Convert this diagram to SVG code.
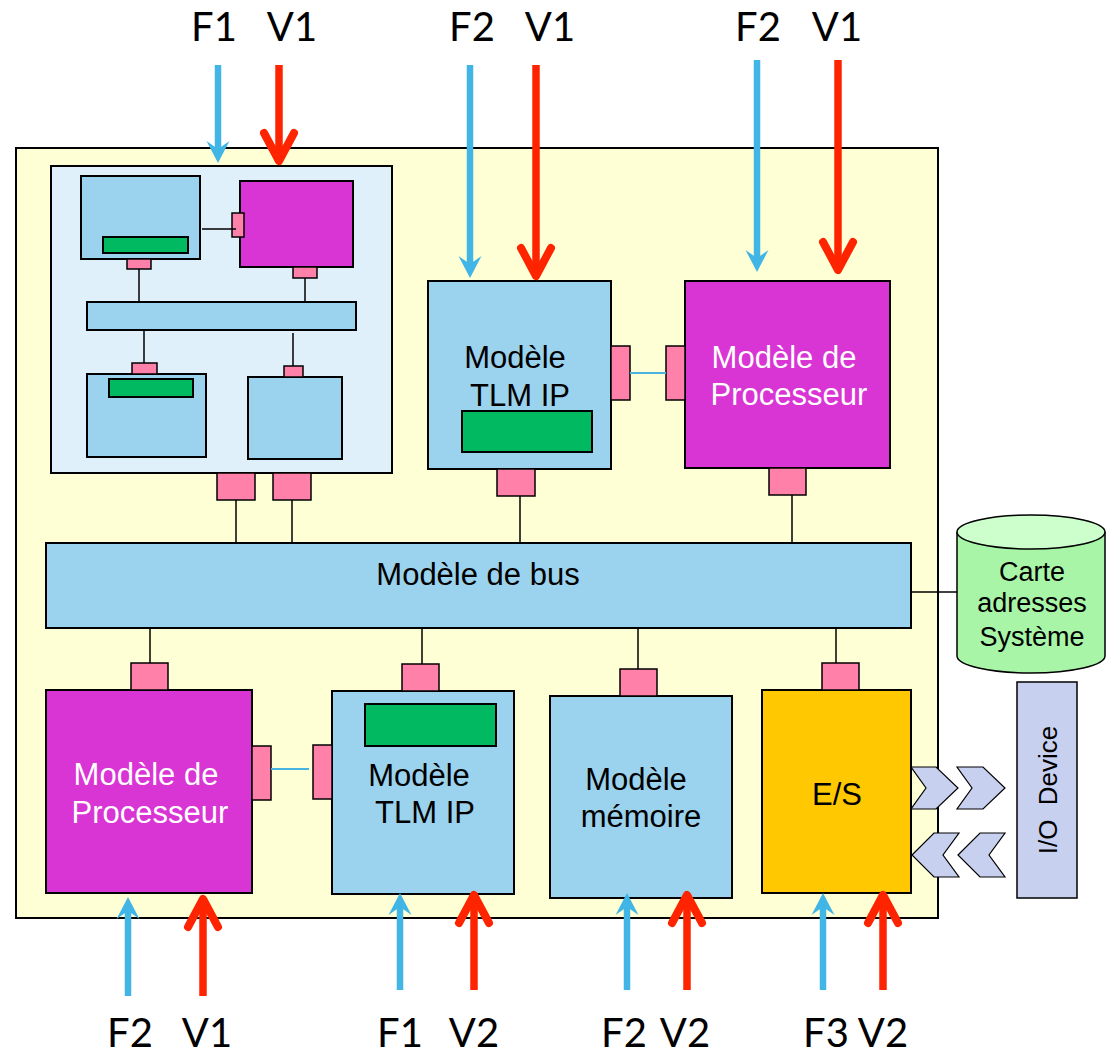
<svg xmlns="http://www.w3.org/2000/svg" width="1106" height="1058" viewBox="0 0 1106 1058">
<defs>
<style>
.bx{stroke:#000;stroke-width:2}
.lb{fill:#9BD3EE}
.mg{fill:#D934D4}
.pk{fill:#FF80A8;stroke:#000;stroke-width:1.5}
.gr{fill:#00B961;stroke:#000;stroke-width:2}
.ln{stroke:#000;stroke-width:1.5;fill:none}
.cy{stroke:#46B4E0;stroke-width:2;fill:none}
.t{font-family:"Liberation Sans",Arial,sans-serif;font-size:31px;text-anchor:middle;fill:#000}
.w{fill:#fff}
.lbl{font-family:Lato,"Liberation Sans",sans-serif;font-size:40px;text-anchor:middle;fill:#000}
.fa{stroke:#41B6E6;stroke-width:6.5;fill:none;marker-end:url(#hb)}
.va{stroke:#FF2400;stroke-width:7.5;fill:none;marker-end:url(#hr)}
.chev{fill:#C8D0F0;stroke:#000;stroke-width:1.2}
</style>
<marker id="hb" markerUnits="userSpaceOnUse" markerWidth="24" markerHeight="24" refX="8" refY="11.5" orient="auto" overflow="visible">
<path d="M0,0 L22,11.5 L0,23 L8,11.5 Z" fill="#41B6E6"/>
</marker>
<marker id="hr" markerUnits="userSpaceOnUse" markerWidth="34" markerHeight="36" refX="28" refY="17" orient="auto" overflow="visible">
<path d="M2,2 L30,17 L2,32" fill="none" stroke="#FF2400" stroke-width="8" stroke-linecap="round" stroke-linejoin="round"/>
</marker>
</defs>
<rect x="0" y="0" width="1106" height="1058" fill="#fff"/>

<g id="system">
<rect x="16" y="148" width="922" height="770" fill="#FFFFD5" class="bx"/>
</g>

<g id="subsystem">
<rect x="51" y="166" width="341" height="307" fill="#DFF0FA" class="bx"/>
<rect x="81" y="176" width="119" height="83" class="bx lb"/>
<rect x="103" y="237" width="85" height="16" class="gr"/>
<rect x="127" y="259" width="24" height="10" class="pk"/>
<rect x="240" y="181" width="113" height="86" class="bx mg"/>
<rect x="232" y="213" width="12" height="24" class="pk"/>
<rect x="293" y="267" width="24" height="11" class="pk"/>
<rect x="87" y="302" width="269" height="28" class="bx lb"/>
<rect x="87" y="374" width="119" height="83" class="bx lb"/>
<rect x="109" y="379" width="84" height="18" class="gr"/>
<rect x="132" y="363" width="25" height="11" class="pk"/>
<rect x="248" y="377" width="94" height="82" class="bx lb"/>
<rect x="284" y="366" width="19" height="11" class="pk"/>
<line x1="202" y1="229" x2="236" y2="229" class="ln"/>
<line x1="139" y1="269" x2="139" y2="302" class="ln"/>
<line x1="305" y1="278" x2="305" y2="302" class="ln"/>
<line x1="144" y1="330" x2="144" y2="363" class="ln"/>
<line x1="293" y1="333" x2="293" y2="366" class="ln"/>
<rect x="217" y="473" width="38" height="27" class="pk"/>
<rect x="273" y="473" width="38" height="27" class="pk"/>
</g>

<g id="tlm-top">
<rect x="428" y="281" width="183" height="188" class="bx lb"/>
<rect x="462" y="411" width="130" height="41" class="gr"/>
<rect x="611" y="346" width="19" height="54" class="pk"/>
<rect x="497" y="469" width="38" height="27" class="pk"/>
<text class="t" x="515" y="368">Modèle</text>
<text class="t" x="520" y="406">TLM IP</text>
</g>

<g id="proc-top">
<rect x="685" y="281" width="205" height="187" class="bx mg"/>
<rect x="666" y="346" width="19" height="54" class="pk"/>
<rect x="769" y="468" width="37" height="27" class="pk"/>
<text class="t w" x="784" y="368">Modèle de</text>
<text class="t w" x="789" y="405">Processeur</text>
</g>

<g id="bus">
<rect x="46" y="543" width="865" height="85" class="bx lb"/>
<text class="t" x="478" y="585">Modèle de bus</text>
</g>

<g id="proc-bottom">
<rect x="46" y="690" width="206" height="203" class="bx mg"/>
<rect x="131" y="663" width="37" height="27" class="pk"/>
<rect x="252" y="746" width="19" height="54" class="pk"/>
<text class="t w" x="146" y="785">Modèle de</text>
<text class="t w" x="150" y="823">Processeur</text>
</g>

<g id="tlm-bottom">
<rect x="332" y="691" width="182" height="203" class="bx lb"/>
<rect x="365" y="704" width="131" height="42" class="gr"/>
<rect x="313" y="745" width="19" height="54" class="pk"/>
<rect x="402" y="664" width="37" height="27" class="pk"/>
<text class="t" x="419" y="786">Modèle</text>
<text class="t" x="425" y="823">TLM IP</text>
</g>

<g id="memoire">
<rect x="550" y="696" width="182" height="202" class="bx lb"/>
<rect x="620" y="669" width="37" height="27" class="pk"/>
<text class="t" x="636" y="790">Modèle</text>
<text class="t" x="641" y="827">mémoire</text>
</g>

<g id="es">
<rect x="762" y="690" width="149" height="203" class="bx" fill="#FFC800"/>
<rect x="822" y="663" width="37" height="27" class="pk"/>
<text class="t" x="837" y="805">E/S</text>
</g>

<g id="carte">
<path d="M957,532 L957,656 A74,17 0 0 0 1105,656 L1105,532" fill="#A8F5A8" stroke="#000" stroke-width="1.5"/>
<ellipse cx="1031" cy="532" rx="74" ry="17" fill="#CCFFCC" stroke="#000" stroke-width="1.5"/>
<text class="t" x="1032" y="581" style="font-size:27px">Carte</text>
<text class="t" x="1032" y="612" style="font-size:27px">adresses</text>
<text class="t" x="1032" y="646" style="font-size:27px">Système</text>
</g>

<g id="io-device">
<rect x="1017" y="682" width="60" height="216" fill="#C8D0F0" stroke="#000" stroke-width="1.5"/>
<text class="t" transform="translate(1057,790) rotate(-90)" style="font-size:26px" xml:space="preserve">I/O  Device</text>
</g>

<g id="connectors">
<line x1="236" y1="500" x2="236" y2="543" class="ln"/>
<line x1="292" y1="500" x2="292" y2="543" class="ln"/>
<line x1="520" y1="496" x2="520" y2="543" class="ln"/>
<line x1="792" y1="495" x2="792" y2="543" class="ln"/>
<line x1="150" y1="628" x2="150" y2="663" class="ln"/>
<line x1="422" y1="628" x2="422" y2="664" class="ln"/>
<line x1="638" y1="628" x2="638" y2="669" class="ln"/>
<line x1="836" y1="628" x2="836" y2="663" class="ln"/>
<line x1="911" y1="592" x2="957" y2="592" class="ln"/>
<line x1="630" y1="373" x2="666" y2="373" class="cy"/>
<line x1="271" y1="769" x2="309" y2="769" class="cy"/>
<polygon class="chev" points="911,767 936,767 958,788 936,809 911,809 926,788"/>
<polygon class="chev" points="957,767 983,767 1005,788 983,809 957,809 972,788"/>
<polygon class="chev" points="912,855 934,833 959,833 943,855 959,877 934,877"/>
<polygon class="chev" points="958,855 980,833 1005,833 989,855 1005,877 980,877"/>

<line x1="218" y1="65" x2="218" y2="149" class="fa"/>
<line x1="279" y1="65" x2="279" y2="159" class="va"/>
<line x1="470" y1="65" x2="470" y2="264" class="fa"/>
<line x1="536" y1="65" x2="536" y2="274" class="va"/>
<line x1="757" y1="60" x2="757" y2="258" class="fa"/>
<line x1="838" y1="60" x2="838" y2="268" class="va"/>

<line x1="128" y1="996" x2="128" y2="911" class="fa"/>
<line x1="203" y1="996" x2="203" y2="901" class="va"/>
<line x1="400" y1="990" x2="400" y2="907" class="fa"/>
<line x1="474" y1="990" x2="474" y2="897" class="va"/>
<line x1="627" y1="990" x2="627" y2="907" class="fa"/>
<line x1="687" y1="990" x2="687" y2="897" class="va"/>
<line x1="823" y1="990" x2="823" y2="907" class="fa"/>
<line x1="883" y1="990" x2="883" y2="897" class="va"/>
</g>

<g id="labels">
<text class="lbl" x="214" y="41">F1</text>
<text class="lbl" x="292" y="41">V1</text>
<text class="lbl" x="472" y="41">F2</text>
<text class="lbl" x="550" y="41">V1</text>
<text class="lbl" x="758" y="41">F2</text>
<text class="lbl" x="837" y="41">V1</text>
<text class="lbl" x="130" y="1047">F2</text>
<text class="lbl" x="207" y="1047">V1</text>
<text class="lbl" x="400" y="1047">F1</text>
<text class="lbl" x="474" y="1047">V2</text>
<text class="lbl" x="624" y="1047">F2</text>
<text class="lbl" x="685" y="1047">V2</text>
<text class="lbl" x="826" y="1047">F3</text>
<text class="lbl" x="883" y="1047">V2</text>
</g>
</svg>
